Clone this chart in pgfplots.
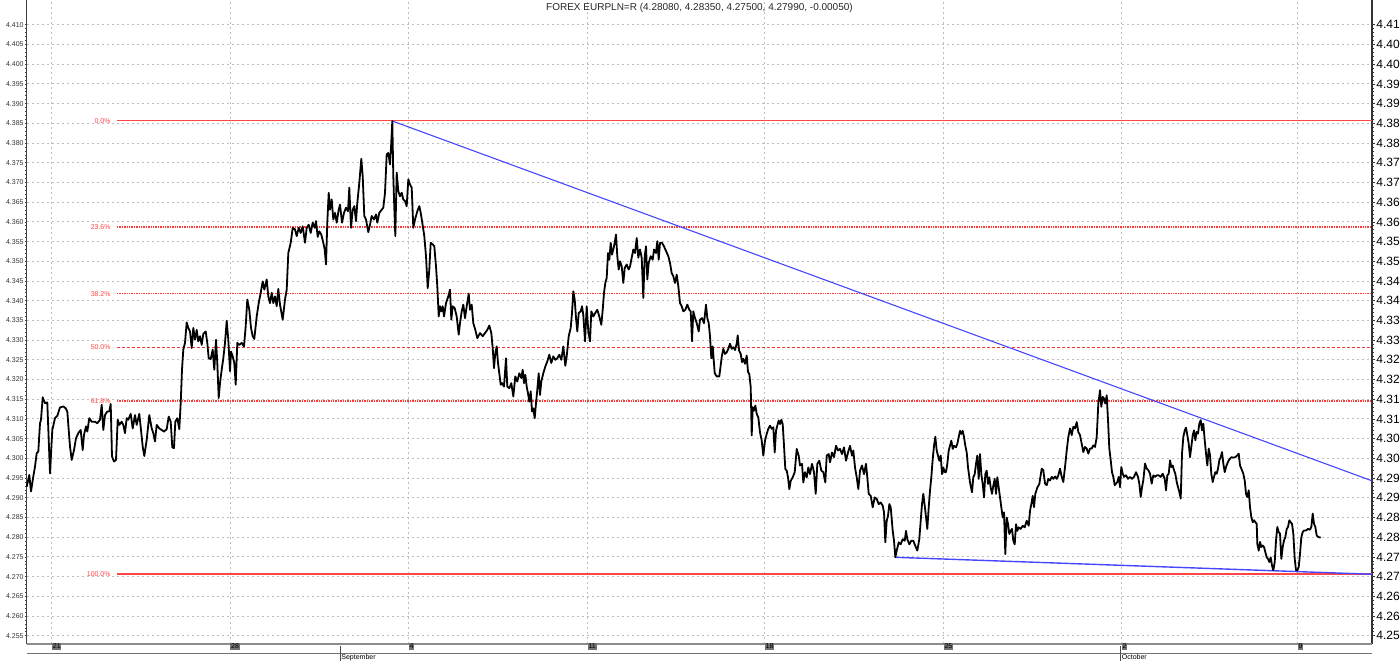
\documentclass[border=0pt]{standalone}
\usepackage{fontspec}
\setmainfont{Liberation Sans}
\usepackage{pgfplots}
\usepackage{pgfplotstable}
\pgfplotsset{compat=1.18}

\definecolor{fibred}{RGB}{255,70,70}
\definecolor{fibdot}{RGB}{255,55,55}
\definecolor{fibdash}{RGB}{240,50,50}
\definecolor{trendblue}{RGB}{70,70,255}
\definecolor{gridgray}{RGB}{190,190,190}

% x = chart position (one unit per screen column), y = EURPLN rate
\pgfplotstableread{
x y
26.7 4.2928
29.3 4.2958
31.0 4.2916
33.3 4.2954
35.0 4.2979
36.7 4.3013
38.3 4.3017
40.0 4.3089
41.0 4.3098
42.7 4.3155
45.0 4.3140
47.3 4.3142
50.0 4.2962
52.3 4.3072
55.0 4.3102
57.3 4.3108
60.0 4.3129
63.3 4.3132
65.7 4.3127
67.3 4.3119
70.0 4.3030
71.7 4.2996
74.0 4.3021
76.0 4.3051
78.3 4.3064
80.7 4.3072
82.7 4.3021
84.0 4.3060
86.0 4.3081
87.3 4.3068
89.3 4.3102
91.7 4.3093
95.0 4.3093
97.3 4.3089
100.0 4.3098
101.7 4.3136
103.3 4.3072
105.0 4.3110
107.3 4.3119
109.3 4.3119
110.7 4.3138
112.0 4.3005
114.0 4.2992
116.0 4.2996
117.7 4.3098
119.3 4.3085
121.7 4.3093
123.3 4.3085
125.0 4.3064
126.7 4.3102
128.3 4.3098
130.7 4.3113
132.7 4.3076
135.0 4.3110
136.7 4.3085
139.3 4.3113
141.0 4.3072
142.7 4.3030
144.3 4.3006
146.7 4.3047
149.3 4.3110
151.7 4.3076
153.3 4.3064
155.0 4.3043
156.7 4.3085
159.3 4.3076
161.7 4.3072
164.0 4.3068
166.7 4.3074
168.7 4.3106
170.7 4.3093
172.3 4.3028
174.0 4.3026
175.3 4.3093
177.3 4.3102
179.3 4.3074
180.7 4.3140
182.0 4.3225
183.3 4.3276
185.0 4.3293
186.7 4.3345
188.3 4.3331
190.0 4.3322
191.7 4.3280
193.3 4.3331
195.0 4.3301
196.7 4.3326
198.3 4.3297
200.0 4.3310
201.7 4.3288
203.3 4.3316
205.7 4.3322
207.3 4.3293
208.7 4.3254
210.7 4.3252
212.7 4.3276
214.3 4.3225
216.0 4.3301
217.3 4.3242
218.7 4.3153
220.0 4.3191
221.7 4.3225
223.3 4.3254
225.0 4.3293
226.7 4.3349
228.3 4.3301
230.0 4.3221
231.0 4.3271
232.7 4.3259
234.3 4.3242
235.7 4.3187
237.3 4.3293
239.3 4.3288
241.7 4.3293
244.0 4.3284
245.7 4.3335
247.3 4.3403
249.3 4.3377
251.0 4.3331
252.7 4.3310
254.3 4.3303
256.7 4.3360
258.7 4.3394
260.7 4.3420
262.7 4.3449
264.3 4.3428
266.7 4.3454
268.3 4.3411
270.0 4.3394
271.7 4.3420
273.3 4.3394
275.0 4.3411
276.7 4.3386
278.3 4.3430
280.0 4.3390
282.7 4.3352
285.0 4.3403
286.7 4.3428
288.3 4.3521
290.7 4.3547
292.7 4.3585
295.0 4.3581
296.7 4.3564
298.7 4.3585
300.7 4.3572
302.7 4.3589
305.0 4.3547
306.7 4.3585
308.7 4.3593
310.7 4.3572
312.7 4.3598
314.7 4.3585
316.0 4.3602
317.7 4.3562
319.3 4.3576
321.3 4.3568
323.3 4.3547
324.7 4.3530
326.0 4.3492
327.3 4.3598
328.7 4.3674
330.0 4.3631
331.7 4.3657
333.3 4.3606
335.0 4.3623
336.7 4.3598
338.7 4.3631
340.0 4.3644
342.0 4.3598
344.0 4.3623
346.0 4.3636
348.0 4.3627
349.3 4.3687
351.0 4.3585
352.7 4.3631
354.3 4.3640
356.0 4.3602
357.3 4.3648
359.3 4.3699
361.3 4.3760
362.7 4.3716
364.3 4.3615
366.0 4.3606
368.3 4.3574
370.0 4.3593
371.7 4.3615
374.0 4.3606
376.0 4.3619
377.3 4.3598
379.3 4.3623
381.7 4.3631
383.3 4.3636
385.0 4.3674
386.7 4.3771
388.3 4.3775
390.0 4.3746
391.0 4.3788
392.3 4.3856
393.3 4.3716
394.3 4.3636
395.3 4.3564
396.7 4.3725
398.3 4.3678
400.0 4.3665
401.7 4.3674
403.3 4.3657
405.0 4.3653
406.7 4.3640
408.3 4.3708
410.0 4.3695
411.7 4.3687
413.3 4.3585
415.0 4.3606
417.3 4.3627
419.3 4.3640
420.7 4.3623
422.3 4.3598
424.3 4.3564
426.0 4.3513
427.7 4.3432
429.3 4.3479
430.7 4.3547
432.7 4.3543
434.3 4.3538
436.0 4.3487
437.3 4.3437
438.7 4.3360
440.0 4.3386
441.3 4.3373
442.7 4.3386
444.0 4.3360
446.0 4.3394
448.3 4.3411
450.0 4.3428
451.3 4.3352
452.7 4.3386
454.7 4.3381
456.7 4.3360
458.7 4.3314
460.0 4.3343
461.7 4.3373
463.3 4.3390
465.0 4.3356
466.7 4.3386
468.7 4.3418
470.0 4.3377
471.7 4.3390
473.3 4.3343
475.3 4.3326
477.3 4.3305
480.0 4.3318
482.7 4.3310
485.0 4.3318
487.3 4.3326
489.3 4.3337
491.3 4.3318
492.7 4.3280
494.0 4.3229
495.3 4.3267
496.7 4.3284
498.0 4.3242
499.3 4.3216
500.7 4.3187
502.0 4.3191
504.0 4.3182
506.0 4.3254
507.3 4.3182
509.3 4.3178
511.3 4.3191
513.3 4.3157
515.3 4.3208
517.3 4.3195
519.3 4.3216
521.3 4.3204
522.7 4.3225
524.0 4.3191
525.3 4.3212
526.7 4.3182
528.0 4.3165
529.3 4.3144
530.7 4.3170
532.0 4.3119
533.3 4.3127
534.7 4.3102
536.0 4.3140
537.3 4.3174
538.7 4.3216
540.0 4.3161
541.3 4.3195
543.3 4.3216
545.3 4.3233
547.3 4.3246
549.3 4.3263
551.3 4.3242
553.3 4.3259
555.3 4.3250
557.3 4.3254
559.3 4.3263
561.3 4.3250
563.3 4.3284
565.3 4.3235
566.7 4.3259
568.7 4.3310
570.7 4.3331
572.0 4.3369
573.3 4.3424
574.7 4.3403
576.0 4.3356
577.3 4.3322
578.7 4.3369
580.7 4.3373
582.0 4.3386
583.3 4.3364
585.0 4.3297
586.7 4.3386
588.3 4.3322
590.0 4.3297
591.3 4.3373
593.3 4.3360
595.3 4.3369
597.3 4.3377
599.3 4.3360
601.3 4.3339
602.7 4.3377
604.0 4.3420
605.3 4.3445
606.7 4.3458
608.0 4.3521
609.3 4.3504
610.7 4.3547
612.0 4.3517
613.3 4.3530
614.7 4.3547
616.0 4.3568
617.3 4.3513
618.7 4.3479
620.0 4.3500
621.7 4.3487
623.3 4.3445
624.7 4.3483
626.7 4.3492
628.7 4.3479
630.0 4.3487
632.0 4.3513
633.3 4.3530
635.0 4.3521
636.7 4.3559
638.3 4.3509
640.0 4.3530
641.7 4.3509
643.3 4.3407
644.7 4.3513
646.0 4.3538
647.3 4.3454
648.7 4.3496
650.7 4.3513
652.7 4.3504
654.0 4.3530
656.0 4.3521
657.3 4.3551
658.7 4.3504
660.0 4.3547
662.0 4.3547
664.0 4.3538
666.0 4.3526
668.3 4.3513
670.0 4.3496
671.7 4.3470
673.3 4.3462
675.0 4.3445
676.7 4.3466
678.3 4.3437
680.0 4.3394
681.7 4.3386
683.3 4.3373
685.3 4.3377
687.3 4.3390
689.3 4.3377
690.7 4.3373
692.0 4.3297
693.3 4.3373
695.0 4.3356
696.7 4.3343
698.7 4.3322
700.0 4.3352
702.0 4.3356
704.0 4.3343
706.0 4.3390
707.3 4.3356
708.7 4.3343
710.0 4.3310
711.3 4.3254
712.7 4.3284
714.7 4.3216
716.7 4.3208
719.3 4.3208
721.7 4.3257
723.3 4.3278
725.0 4.3265
726.7 4.3269
728.3 4.3278
730.0 4.3291
731.7 4.3278
733.3 4.3282
735.0 4.3275
736.7 4.3291
737.7 4.3312
739.0 4.3274
740.7 4.3265
742.0 4.3244
743.3 4.3253
745.0 4.3240
746.7 4.3261
748.0 4.3219
749.3 4.3214
750.7 4.3181
751.7 4.3058
752.7 4.3130
754.0 4.3121
755.3 4.3134
756.7 4.3113
758.3 4.3104
760.0 4.3066
761.7 4.3045
763.3 4.3007
765.0 4.3045
766.7 4.3062
768.3 4.3075
770.0 4.3083
771.7 4.3075
773.3 4.3079
774.7 4.3015
776.0 4.3070
777.3 4.3083
778.7 4.3096
780.0 4.3087
781.3 4.3098
782.7 4.3087
784.0 4.3032
785.3 4.2973
786.7 4.2969
788.0 4.2952
789.3 4.2922
790.7 4.2943
792.7 4.2952
794.7 4.2965
796.7 4.3024
798.7 4.3007
800.0 4.2982
802.0 4.2986
803.3 4.2939
805.0 4.2965
806.7 4.2952
808.3 4.2977
810.0 4.2960
812.0 4.2986
814.0 4.2965
815.7 4.2910
817.3 4.2986
819.3 4.2994
821.3 4.2969
823.3 4.2965
825.3 4.2939
826.7 4.3007
828.7 4.3011
830.0 4.2990
832.0 4.3015
834.0 4.3003
836.0 4.3032
838.0 4.3020
840.0 4.3024
842.0 4.3011
844.0 4.3028
846.0 4.2994
848.0 4.3015
850.0 4.3032
852.0 4.3007
853.3 4.3020
855.0 4.2977
856.7 4.2952
858.3 4.2922
860.0 4.2969
862.0 4.2982
864.0 4.2960
866.0 4.2986
867.3 4.2952
868.7 4.2910
870.7 4.2905
872.7 4.2876
874.7 4.2901
876.7 4.2897
878.7 4.2884
880.7 4.2888
882.7 4.2880
884.0 4.2863
885.3 4.2787
886.7 4.2842
888.0 4.2854
889.3 4.2884
890.7 4.2876
892.7 4.2816
894.0 4.2791
895.3 4.2749
896.7 4.2766
898.7 4.2787
900.7 4.2782
902.7 4.2795
904.7 4.2791
906.0 4.2816
907.3 4.2795
909.3 4.2782
911.3 4.2791
913.3 4.2791
915.3 4.2778
917.3 4.2766
919.3 4.2795
920.7 4.2842
922.0 4.2884
923.3 4.2910
925.3 4.2867
927.3 4.2821
928.7 4.2876
930.0 4.2918
931.3 4.2952
932.7 4.2998
934.0 4.3032
935.3 4.3055
936.7 4.3020
938.0 4.3007
939.3 4.2994
940.7 4.3007
942.0 4.2960
943.3 4.2977
944.7 4.2965
946.0 4.2965
947.3 4.2986
948.7 4.3020
950.0 4.3032
951.3 4.3045
952.7 4.3024
954.0 4.3032
956.0 4.3028
957.3 4.3037
958.7 4.3054
960.0 4.3070
961.3 4.3062
962.7 4.3070
964.0 4.3054
965.3 4.3032
966.7 4.3015
968.0 4.2977
970.0 4.2939
972.0 4.2914
973.3 4.2952
974.7 4.2960
976.0 4.2986
977.3 4.3007
978.7 4.2948
980.0 4.3011
981.3 4.2960
982.7 4.2935
984.0 4.2901
985.3 4.2960
986.7 4.2969
988.0 4.2935
989.3 4.2952
990.7 4.2926
992.0 4.2910
993.3 4.2931
994.7 4.2948
996.0 4.2910
997.3 4.2952
998.7 4.2926
1000.0 4.2901
1001.3 4.2876
1002.7 4.2850
1004.0 4.2863
1005.3 4.2757
1006.7 4.2850
1008.0 4.2833
1009.3 4.2808
1010.7 4.2816
1012.0 4.2821
1013.3 4.2791
1014.7 4.2782
1016.0 4.2833
1017.3 4.2816
1018.7 4.2825
1020.7 4.2821
1022.7 4.2829
1024.7 4.2825
1026.7 4.2842
1028.7 4.2829
1030.0 4.2867
1031.3 4.2884
1032.7 4.2905
1034.0 4.2876
1035.3 4.2910
1037.3 4.2926
1039.3 4.2935
1041.7 4.2974
1043.3 4.2970
1045.0 4.2936
1046.7 4.2932
1048.3 4.2948
1050.0 4.2944
1051.7 4.2953
1053.3 4.2948
1055.0 4.2954
1056.7 4.2948
1058.3 4.2957
1060.0 4.2974
1061.7 4.2953
1063.3 4.2940
1065.0 4.2978
1066.7 4.3020
1068.3 4.3054
1070.0 4.3076
1071.7 4.3059
1073.3 4.3080
1075.0 4.3076
1076.7 4.3092
1078.3 4.3067
1080.0 4.3059
1081.7 4.3037
1083.3 4.3016
1085.0 4.3029
1086.7 4.3025
1088.3 4.3012
1090.0 4.3025
1091.7 4.3025
1093.3 4.3033
1095.0 4.3029
1096.7 4.3054
1098.3 4.3139
1100.0 4.3173
1101.3 4.3131
1102.7 4.3156
1104.0 4.3152
1105.3 4.3139
1106.7 4.3160
1108.0 4.3097
1109.3 4.3025
1110.7 4.2995
1112.0 4.2965
1113.3 4.2953
1114.7 4.2932
1116.0 4.2936
1117.3 4.2940
1118.7 4.2953
1120.0 4.2927
1121.3 4.2978
1122.7 4.2961
1124.0 4.2953
1126.0 4.2957
1128.0 4.2948
1130.0 4.2953
1132.0 4.2948
1134.0 4.2953
1136.0 4.2965
1138.0 4.2953
1139.3 4.2936
1140.7 4.2902
1142.0 4.2927
1143.3 4.2944
1145.0 4.2987
1146.7 4.2974
1148.3 4.2970
1150.0 4.2961
1151.7 4.2936
1153.3 4.2957
1155.0 4.2953
1156.7 4.2957
1158.7 4.2957
1160.7 4.2953
1162.7 4.2961
1164.7 4.2948
1166.0 4.2919
1167.3 4.2957
1168.7 4.2961
1170.0 4.2995
1171.3 4.2978
1172.7 4.2982
1174.0 4.2970
1175.3 4.2961
1176.7 4.2940
1178.0 4.2927
1179.3 4.2915
1180.7 4.2898
1182.0 4.3012
1183.3 4.3054
1184.7 4.3071
1186.0 4.3078
1187.3 4.3059
1188.7 4.3037
1190.0 4.3003
1191.3 4.3029
1192.7 4.3059
1194.0 4.3071
1195.3 4.3046
1196.7 4.3067
1198.0 4.3063
1199.3 4.3088
1200.7 4.3097
1202.0 4.3071
1203.3 4.3088
1204.7 4.3046
1206.0 4.3012
1207.3 4.2982
1208.7 4.3025
1210.0 4.3008
1211.3 4.2961
1212.7 4.2940
1214.0 4.2953
1215.3 4.2965
1216.7 4.2961
1218.0 4.2974
1219.3 4.2995
1220.7 4.3003
1222.0 4.3016
1223.3 4.2987
1224.7 4.2965
1226.0 4.2978
1227.3 4.2987
1228.7 4.2995
1230.0 4.2999
1231.3 4.3003
1233.3 4.3002
1235.3 4.3003
1237.3 4.3008
1238.7 4.3012
1240.0 4.2982
1241.3 4.2974
1243.3 4.2961
1244.7 4.2944
1246.0 4.2910
1247.3 4.2902
1248.7 4.2919
1250.0 4.2876
1251.3 4.2851
1252.7 4.2838
1254.0 4.2843
1255.3 4.2838
1256.7 4.2834
1257.3 4.2783
1258.7 4.2766
1260.0 4.2788
1261.3 4.2775
1262.7 4.2779
1264.0 4.2775
1265.3 4.2762
1266.7 4.2749
1268.0 4.2745
1269.3 4.2737
1270.7 4.2749
1272.0 4.2728
1273.3 4.2716
1274.7 4.2737
1276.0 4.2792
1277.3 4.2826
1278.7 4.2813
1280.0 4.2809
1281.3 4.2745
1282.7 4.2775
1284.0 4.2792
1285.3 4.2800
1286.7 4.2821
1288.0 4.2826
1289.3 4.2843
1290.7 4.2838
1292.0 4.2834
1293.3 4.2809
1294.7 4.2745
1296.0 4.2716
1297.3 4.2716
1298.7 4.2724
1300.0 4.2758
1301.3 4.2800
1302.7 4.2813
1304.0 4.2817
1306.0 4.2817
1308.0 4.2821
1310.0 4.2819
1311.3 4.2826
1312.7 4.2860
1314.0 4.2834
1315.3 4.2826
1316.7 4.2804
1318.7 4.2800
1320.7 4.2799
}\price

\begin{document}
\begin{tikzpicture}
\useasboundingbox (0,0) rectangle (700pt,330.5pt);

% right-hand scale, prices cut to two decimals
\begin{axis}[
  at={(13.5pt,8.5pt)}, anchor=south west,
  scale only axis, width=672.5pt, height=322pt,
  xmin=27, xmax=1372, ymin=4.2529, ymax=4.4163,
  axis x line=none, axis y line*=right,
  y axis line style={black!80, line width=0.7pt, -},
  ytick={4.255,4.260,4.265,4.270,4.275,4.280,4.285,4.290,4.295,4.300,4.305,4.310,4.315,4.320,4.325,4.330,4.335,4.340,4.345,4.350,4.355,4.360,4.365,4.370,4.375,4.380,4.385,4.390,4.395,4.400,4.405,4.410},
  yticklabels={4.25,4.26,4.26,4.27,4.27,4.28,4.28,4.29,4.29,4.30,4.30,4.31,4.31,4.32,4.32,4.33,4.33,4.34,4.34,4.35,4.35,4.36,4.36,4.37,4.37,4.38,4.38,4.39,4.39,4.40,4.40,4.41},
  minor y tick num=4,
  tick align=outside, major tick length=1.6pt, minor tick length=0.9pt,
  tick style={black!80, line width=0.35pt},
  yticklabel style={font=\fontsize{6}{7}\selectfont, black, inner sep=0.4pt},
]
\end{axis}

\begin{axis}[
  at={(13.5pt,8.5pt)}, anchor=south west,
  scale only axis, width=672.5pt, height=322pt,
  xmin=27, xmax=1372, ymin=4.2529, ymax=4.4163,
  clip=false,
  axis x line*=bottom, axis y line*=left,
  x axis line style={black!45, line width=1pt, -},
  y axis line style={black!75, line width=0.5pt, -},
  xtick={51.7,230,408.3,587.3,764.5,943.3,1121.3,1297.3},
  xticklabels={21,28,4,11,18,25,2,9},
  xtick style={draw=none},
  xticklabel style={anchor=north west, fill=black!55, text=black, inner sep=0.4pt,
    font=\fontsize{3.5}{3.5}\selectfont, yshift=0.6pt},
  ytick={4.255,4.260,4.265,4.270,4.275,4.280,4.285,4.290,4.295,4.300,4.305,4.310,4.315,4.320,4.325,4.330,4.335,4.340,4.345,4.350,4.355,4.360,4.365,4.370,4.375,4.380,4.385,4.390,4.395,4.400,4.405,4.410},
  yticklabels={4.255,4.260,4.265,4.270,4.275,4.280,4.285,4.290,4.295,4.300,4.305,4.310,4.315,4.320,4.325,4.330,4.335,4.340,4.345,4.350,4.355,4.360,4.365,4.370,4.375,4.380,4.385,4.390,4.395,4.400,4.405,4.410},
  minor y tick num=4,
  ytick align=outside, major tick length=1.2pt, minor tick length=0.8pt,
  ytick style={black!75, line width=0.35pt},
  yticklabel style={font=\fontsize{3.5}{4}\selectfont, black!80, inner sep=0.3pt},
  grid=major,
  grid style={gridgray, line width=0.5pt, dash pattern=on 1.2pt off 1.3pt},
]
% Fibonacci retracement levels
\addplot[fibred, line width=0.8pt] coordinates {(117,4.3857) (1372,4.3857)};
\addplot[fibdot, line width=0.8pt, dash pattern=on 0.7pt off 0.5pt] coordinates {(117,4.3587) (1372,4.3587)};
\addplot[fibdot, line width=0.8pt, dash pattern=on 0.7pt off 0.5pt] coordinates {(117,4.3418) (1372,4.3418)};
\addplot[fibdash, line width=0.7pt, dash pattern=on 1.5pt off 1pt] coordinates {(117,4.3282) (1372,4.3282)};
\addplot[fibdot, line width=0.8pt, dash pattern=on 0.7pt off 0.5pt] coordinates {(117,4.3146) (1372,4.3146)};
\addplot[fibred, line width=0.7pt] coordinates {(117,4.2707) (1372,4.2707)};

% trend lines
\addplot[trendblue, line width=0.55pt] coordinates {(392.3,4.3856) (1372,4.2943)};
\addplot[trendblue, line width=0.7pt] coordinates {(895.3,4.2749) (1372,4.2706)};

% price
\addplot[black, line width=0.9pt, line join=round] table {\price};

\foreach \lvl/\txt in {4.3857/0.0\%, 4.3587/23.6\%, 4.3418/38.2\%, 4.3282/50.0\%, 4.3146/61.8\%, 4.2707/100.0\%}
  {\edef\tmp{\noexpand\node[anchor=east, inner sep=0pt, text=fibred,
     font=\noexpand\fontsize{3.5}{4}\noexpand\selectfont] at (axis cs:111,\lvl) {\txt};}\tmp}

\node[font=\fontsize{5}{6}\selectfont, text=black!85] at ([yshift=-4pt]rel axis cs:0.5,1)
  {FOREX EURPLN=R (4.28080, 4.28350, 4.27500, 4.27990, -0.00050)};

% date strip under the chart
\draw[black!55, line width=0.5pt] ([yshift=-4.6pt]axis cs:27,4.2529) -- ([yshift=-4.6pt]axis cs:1372,4.2529);
\draw[black!70, line width=0.4pt] ([yshift=-1pt]axis cs:340,4.2529) -- ([yshift=-8.5pt]axis cs:340,4.2529);
\draw[black!70, line width=0.4pt] ([yshift=-1pt]axis cs:1120.5,4.2529) -- ([yshift=-8.5pt]axis cs:1120.5,4.2529);
\node[anchor=base west, inner sep=0pt, font=\fontsize{3.5}{4}\selectfont]
  at ([xshift=0.5pt, yshift=-7.8pt]axis cs:340,4.2529) {September};
\node[anchor=base west, inner sep=0pt, font=\fontsize{3.5}{4}\selectfont]
  at ([xshift=0.5pt, yshift=-7.8pt]axis cs:1120.5,4.2529) {October};
\end{axis}
\end{tikzpicture}
\end{document}
